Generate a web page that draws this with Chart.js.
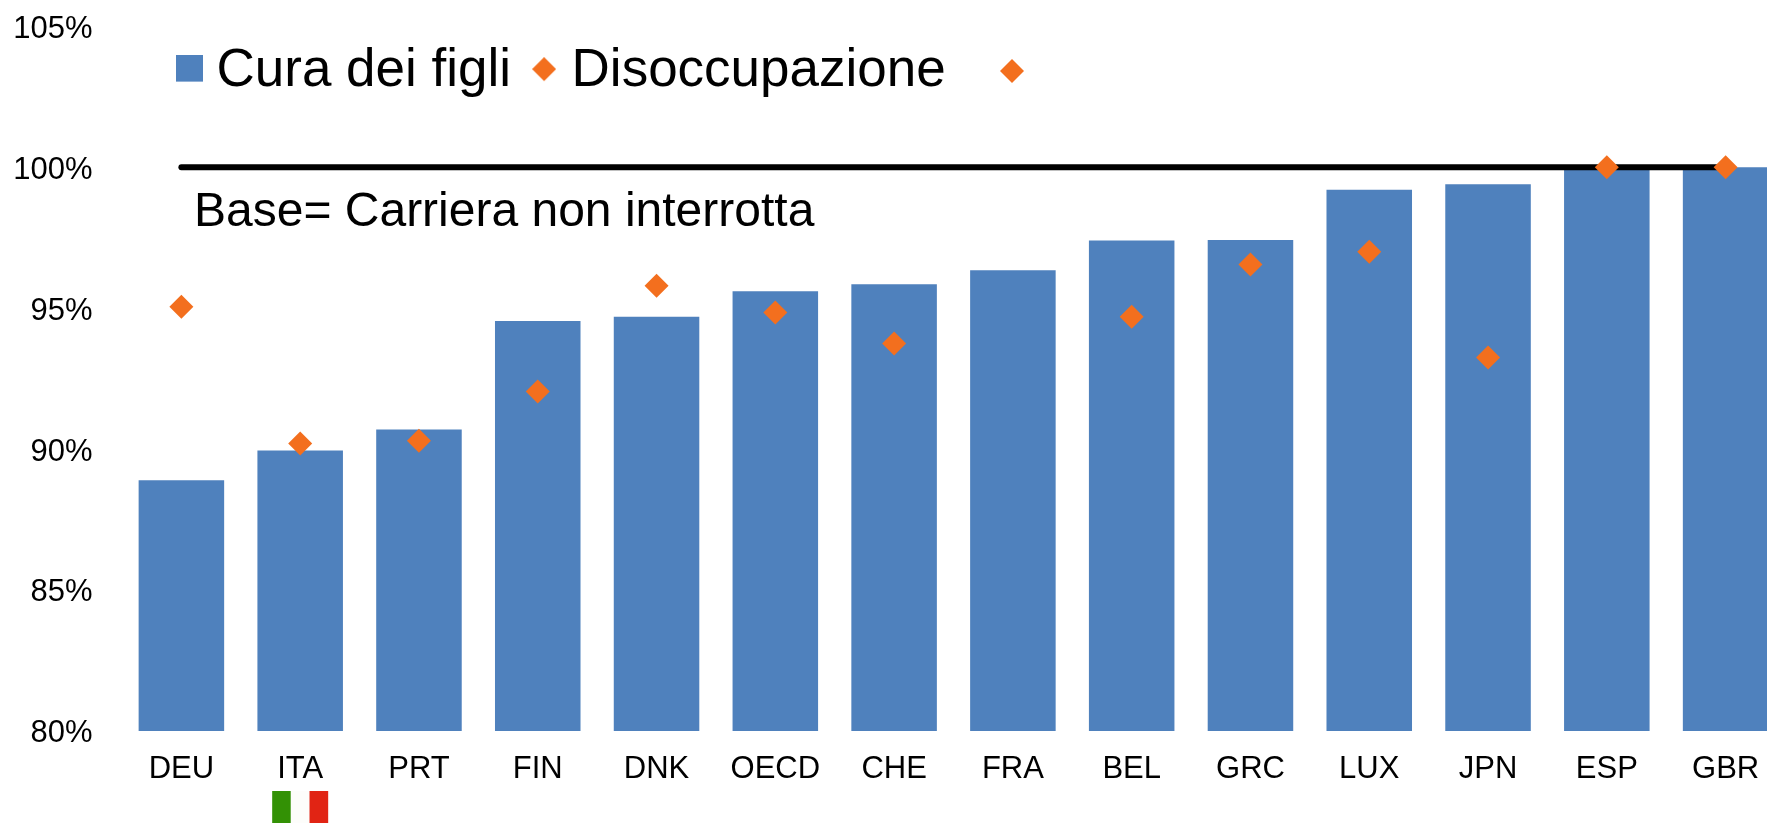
<!DOCTYPE html>
<html><head><meta charset="utf-8">
<style>html,body{margin:0;padding:0;background:#fff;width:1767px;height:823px;overflow:hidden}canvas{display:block}</style>
<script src="https://cdn.jsdelivr.net/npm/chart.js@4"></script>
</head><body>
<canvas id="c" width="1797" height="823"></canvas>
<script>
const categories = ['DEU','ITA','PRT','FIN','DNK','OECD','CHE','FRA','BEL','GRC','LUX','JPN','ESP','GBR'];
const curaDeiFigli = [88.9,89.95,90.7,94.55,94.7,95.6,95.85,96.35,97.4,97.42,99.2,99.4,100,100];
const disoccupazione = [95.05,90.2,90.3,92.05,95.8,94.85,93.75,null,94.7,96.55,97.0,93.25,100,100];
const base = [100,100,100,100,100,100,100,100,100,100,100,100,100,100];
const yTicks = [80,85,90,95,100,105];
const baseNote = 'Base= Carriera non interrotta';
const BLUE = '#4F81BD', ORANGE = '#F36F1E';
const FONT = '"Liberation Sans", Arial, sans-serif';

// legend glyph on a canvas with transparent space below it, which lifts it to the text's optical centre
function legendMark(size, color, diamond, lift){
  const s = document.createElement('canvas');
  s.width = size; s.height = size + lift;
  const g = s.getContext('2d');
  g.fillStyle = color;
  if(diamond){
    const r = size/2;
    g.beginPath();g.moveTo(0,r);g.lineTo(r,0);g.lineTo(size,r);g.lineTo(r,size);g.closePath();g.fill();
  } else {
    g.fillRect(0,0,size,size);
  }
  return s;
}

const extras = {
  id:'extras',
  beforeLayout(chart){
    const lg = chart.legend;
    if(!lg._wrapped){
      const fit = lg.fit;
      lg.fit = function(){ fit.call(this); this.height = 0; };
      lg._wrapped = true;
    }
  },
  afterLayout(chart){
    const lg = chart.legend;
    lg.left = 156; lg.top = 12.6; lg.right = 1767; lg.bottom = 150;
  },
  afterDatasetsDraw(chart){
    const ctx = chart.ctx;
    ctx.save();
    ctx.fillStyle = '#000';
    ctx.font = '48px ' + FONT;
    ctx.textBaseline = 'alphabetic';
    ctx.textAlign = 'left';
    ctx.fillText(baseNote, 194, 226);
    const cx = chart.scales.x.getPixelForValue(categories.indexOf('ITA'));
    const w = 56, h = 32, t = 791;
    [['#339105',0],['#FDFDFB',1],['#E12414',2]].forEach(([col,i])=>{
      ctx.fillStyle = col;
      ctx.fillRect(cx - w/2 + i*w/3, t, w/3, h);
    });
    const r = 12, mx = 1012, my = 71;
    ctx.fillStyle = ORANGE;
    ctx.beginPath();
    ctx.moveTo(mx-r,my);ctx.lineTo(mx,my-r);ctx.lineTo(mx+r,my);ctx.lineTo(mx,my+r);ctx.closePath();
    ctx.fill();
    ctx.restore();
  }
};

new Chart(document.getElementById('c'),{
  type:'bar',
  plugins:[extras],
  data:{
    labels:categories,
    datasets:[
      {type:'bar',label:'Cura dei figli',data:curaDeiFigli,backgroundColor:BLUE,categoryPercentage:1,barPercentage:0.72,order:3},
      {type:'line',label:'Disoccupazione',data:disoccupazione,showLine:false,pointStyle:'rectRot',pointRadius:12,pointHoverRadius:12,pointBackgroundColor:ORANGE,pointBorderWidth:0,borderColor:ORANGE,backgroundColor:ORANGE,order:1},
      {type:'line',label:'',data:base,borderColor:'#000',borderWidth:6,borderCapStyle:'round',pointRadius:0,fill:false,order:2}
    ]
  },
  options:{
    responsive:false,
    animation:false,
    layout:{padding:{top:26.4,left:0,right:0,bottom:0}},
    plugins:{
      tooltip:{enabled:false},
      legend:{
        position:'top',
        align:'start',
        labels:{
          font:{family:FONT,size:53},
          color:'#000',
          padding:32,
          usePointStyle:true,
          boxWidth:2,
          boxHeight:16.3,
          generateLabels(){
            return [
              {text:'Cura dei figli',pointStyle:legendMark(27,BLUE,false,6),fillStyle:BLUE,strokeStyle:BLUE,lineWidth:0,datasetIndex:0},
              {text:'Disoccupazione',pointStyle:legendMark(24,ORANGE,true,4),fillStyle:ORANGE,strokeStyle:ORANGE,lineWidth:0,datasetIndex:1}
            ];
          }
        }
      }
    },
    scales:{
      x:{
        grid:{display:false,drawTicks:false},
        border:{display:false},
        afterFit(s){s.height=92;s.paddingLeft=0;s.paddingRight=0;},
        ticks:{color:'#000',font:{family:FONT,size:31},padding:20,maxRotation:0,autoSkip:false}
      },
      y:{
        min:80,max:105,
        grid:{display:false,drawTicks:false},
        border:{display:false},
        afterFit(s){s.width=122;s.paddingTop=0;s.paddingBottom=0;},
        afterBuildTicks(s){s.ticks=yTicks.map(v=>({value:v}));},
        ticks:{color:'#000',font:{family:FONT,size:31},padding:29.5,labelOffset:2.8,callback:v=>v+'%'}
      }
    }
  }
});
</script>
</body></html>
